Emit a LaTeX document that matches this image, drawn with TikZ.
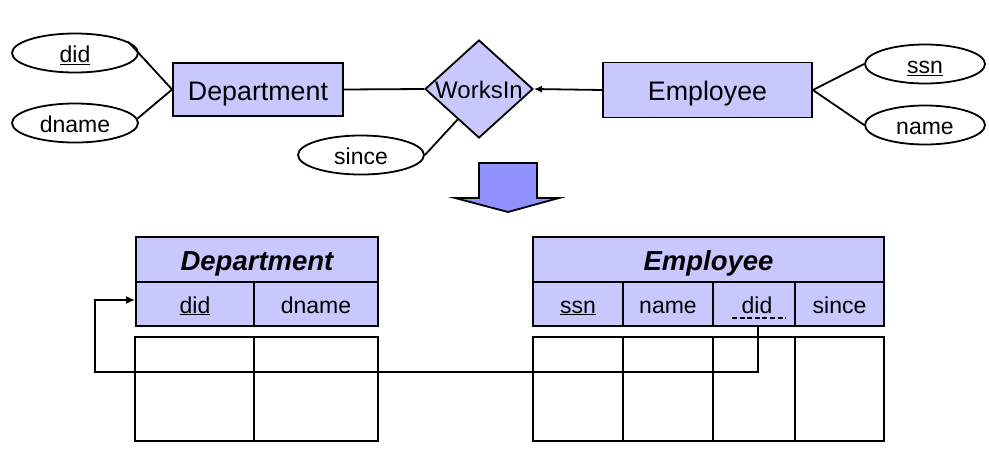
\documentclass[tikz,border=0pt]{standalone}
\usepackage{fontspec}
\setmainfont{Liberation Sans}
\usetikzlibrary{shapes.geometric,arrows.meta}
\definecolor{lav}{HTML}{C8C8FF}
\definecolor{bigarrow}{HTML}{9090FF}
\tikzset{
  lw/.style={line width=1.8pt},
  attr/.style={ellipse,draw,lw,fill=white,minimum width=126pt,minimum height=39pt,inner sep=0pt,text height=19pt,text depth=0pt,font=\fontsize{23}{26}\selectfont},
  entity/.style={rectangle,draw,lw,fill=lav,inner sep=0pt,text height=21pt,text depth=0pt,font=\fontsize{26.8}{30}\selectfont},
  rel/.style={diamond,draw,lw,fill=lav,inner sep=0pt,minimum width=108pt,minimum height=98pt},
  reltext/.style={inner sep=0pt,text height=17pt,text depth=0pt,font=\fontsize{24}{26}\selectfont},
  hdr/.style={rectangle,draw,lw,fill=lav,inner sep=0pt,text height=21pt,text depth=0pt,font=\fontsize{27.5}{30}\selectfont\bfseries\itshape},
  cell/.style={rectangle,draw,lw,fill=lav,inner sep=0pt,text height=18pt,text depth=0pt,font=\fontsize{23}{26}\selectfont},
  celltext/.style={inner sep=0pt,text height=18pt,text depth=0pt,font=\fontsize{23}{26}\selectfont},
  datacol/.style={rectangle,draw,lw,fill=white,inner sep=0pt,minimum height=104pt},
  conn/.style={lw},
  fkarrow/.style={lw,-{Latex[length=9pt,width=8pt]}},
}
\begin{document}
\begin{tikzpicture}[x=1pt,y=-1pt]
\useasboundingbox (0,0) rectangle (989,464);
% ER diagram
\node[attr] (did) at (75,53) {\underline{did}};
\node[attr] (dname) at (75,123) {dname};
\node[entity,minimum width=170pt,minimum height=53pt] (dept) at (258,89.5) {Department};
\node[rel] (wi) at (479,89) {};
\node[reltext] (witext) at (479,90) {WorksIn};
\node[attr] (since) at (361,155) {since};
\node[entity,minimum width=209pt,minimum height=55pt] (emp) at (707.5,90) {Employee};
\node[attr,minimum width=120pt] (ssn) at (925,64) {\underline{ssn}};
\node[attr,minimum width=120pt] (name) at (925,125) {name};
\draw[conn] (did.12) -- (dept.west);
\draw[conn] (dname.4) -- (dept.west);
\draw[conn] (dept.east) -- (wi.west);
\draw[conn] (since.east) -- (wi.235);
\draw[lw,-{Latex[length=8pt,width=7pt]}] (emp.west) -- (wi.east);
\draw[conn] (emp.east) -- (ssn.west);
\draw[conn] (emp.east) -- (name.west);
% big arrow
\draw[lw,fill=bigarrow] (479,163) -- (537,163) -- (537,198) -- (559,198) -- (508,212) -- (455,198) -- (479,198) -- cycle;
% Department table
\node[hdr,minimum width=242pt,minimum height=45pt] (dh) at (257,259.5) {Department};
\node[cell,minimum width=118pt,minimum height=44pt] (ddid) at (195,304) {\underline{did}};
\node[cell,minimum width=124pt,minimum height=44pt] (ddname) at (316,304) {dname};
\node[datacol,minimum width=119pt] (dd1) at (194.5,389) {};
\node[datacol,minimum width=124pt] (dd2) at (316,389) {};
% Employee table
\node[hdr,minimum width=351pt,minimum height=45pt] (eh) at (708.5,259.5) {Employee};
\node[cell,minimum width=90pt,minimum height=44pt] (essn) at (578,304) {\underline{ssn}};
\node[cell,minimum width=90pt,minimum height=44pt] (ename) at (668,304) {name};
\node[cell,minimum width=82pt,minimum height=44pt] (edid) at (754,304) {};
\node[celltext] (edidtext) at (757,304) {did};
\node[cell,minimum width=89pt,minimum height=44pt] (esince) at (839.5,304) {since};
\node[datacol,minimum width=90pt] (ed1) at (578,389) {};
\node[datacol,minimum width=90pt] (ed2) at (668,389) {};
\node[datacol,minimum width=82pt] (ed3) at (754,389) {};
\node[datacol,minimum width=89pt] (ed4) at (839.5,389) {};
\draw[line width=1.6pt,dash pattern=on 5pt off 2.6pt] (732,318) -- (786,318);
% foreign key arrow
\coordinate (fk) at (758,326);
\coordinate (c1) at (758,372);
\coordinate (c2) at (95,372);
\coordinate (c3) at (95,300);
\draw[fkarrow] (fk) -- (c1) -- (c2) -- (c3) -- ([yshift=4pt]ddid.west);
\end{tikzpicture}
\end{document}
